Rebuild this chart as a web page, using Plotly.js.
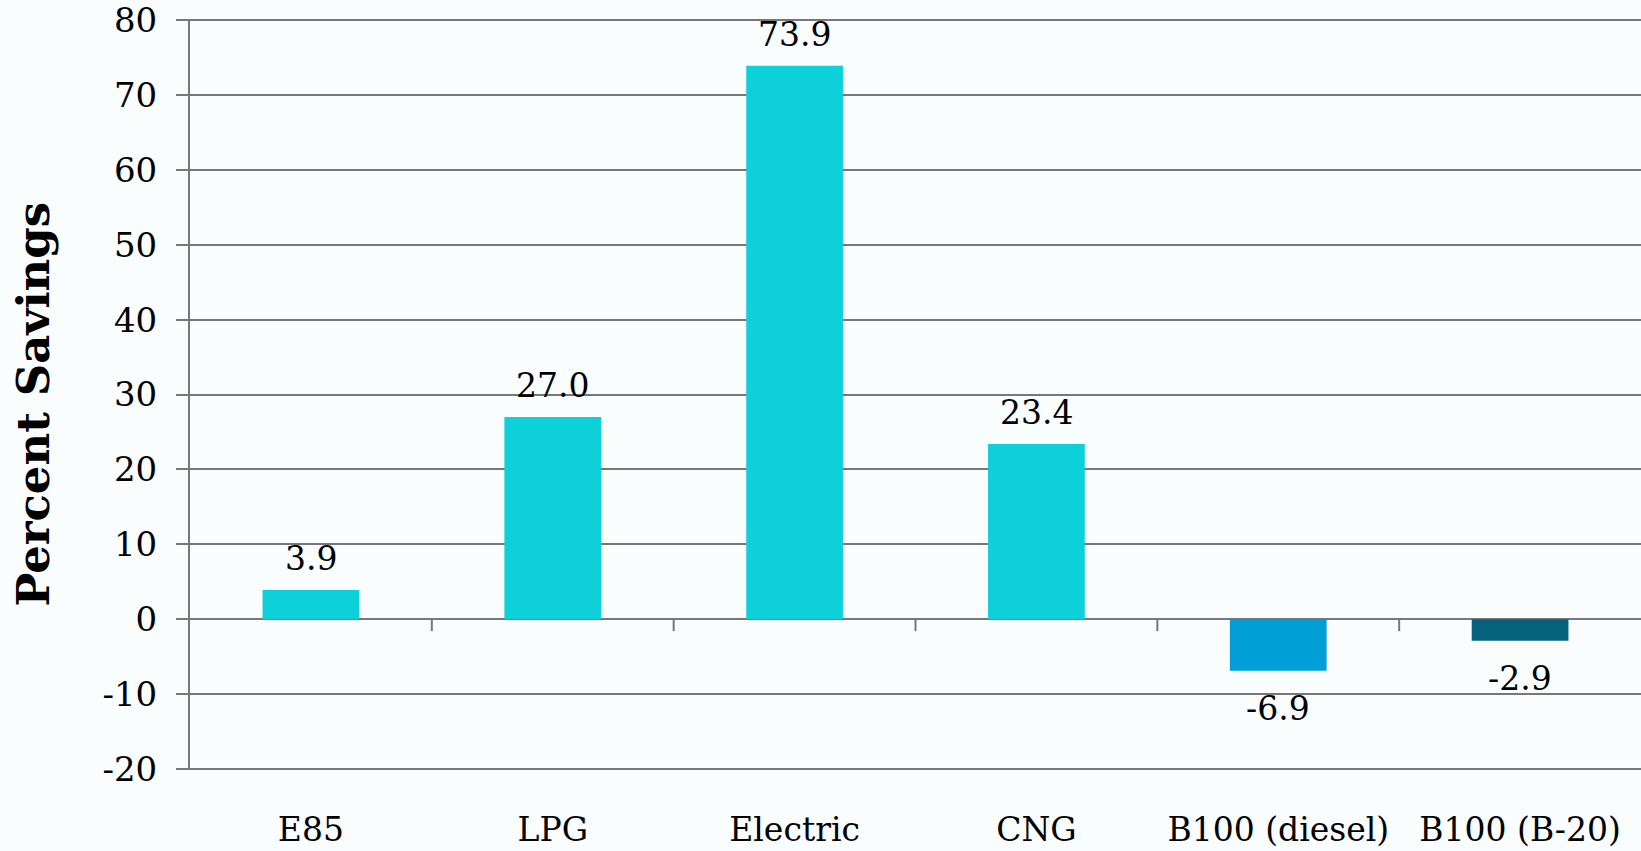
<!DOCTYPE html>
<html>
<head>
<meta charset="utf-8">
<script src="https://cdn.plot.ly/plotly-3.0.1.min.js"></script>
<style>
  html, body { margin: 0; padding: 0; background: #f9fdfe; }
  #chart { width: 1641px; height: 851px; }
</style>
</head>
<body>
<div id="chart"></div>
<script>
// Fuel types and their percent savings
const categories = ["E85", "LPG", "Electric", "CNG", "B100 (diesel)", "B100 (B-20)"];
const savings = [3.9, 27.0, 73.9, 23.4, -6.9, -2.9];
const barColors = ["#0dd0d8", "#0dd0d8", "#0dd0d8", "#0dd0d8", "#009fd8", "#06627c"];
const yTicks = [-20, -10, 0, 10, 20, 30, 40, 50, 60, 70, 80];
const yTitle = "Percent Savings";

const FONT = "DejaVu Serif, Liberation Serif, serif";
const GRID = "#777777";

const trace = {
  type: "bar",
  x: categories,
  y: savings,
  marker: { color: barColors, line: { width: 0 } },
  hoverinfo: "x+y",
  cliponaxis: false
};

// Value labels above positive bars, below negative bars
const labels = categories.map((c, i) => ({
  x: c,
  y: savings[i],
  xref: "x",
  yref: "y",
  text: savings[i].toFixed(1),
  showarrow: false,
  yanchor: savings[i] >= 0 ? "bottom" : "top",
  yshift: savings[i] >= 0 ? 10 : -16,
  font: { family: FONT, size: 33, color: "#000" }
}));

// Vertical axis title, set slightly below the middle of the plot
labels.push({
  xref: "paper",
  yref: "paper",
  x: 0,
  y: 0.5,
  xanchor: "center",
  yanchor: "middle",
  xshift: -157,
  yshift: -10,
  textangle: -90,
  text: "<b>" + yTitle + "</b>",
  showarrow: false,
  font: { family: FONT, size: 45, color: "#000" }
});

// Short tick marks hanging below the zero line at category boundaries
const boundaryTicks = [];
for (let i = 0; i < categories.length - 1; i++) {
  boundaryTicks.push({
    type: "line",
    xref: "x",
    yref: "y",
    x0: i + 0.5,
    x1: i + 0.5,
    ysizemode: "pixel",
    yanchor: 0,
    y0: 0,
    y1: -12,
    line: { color: GRID, width: 2 }
  });
}

const layout = {
  width: 1641,
  height: 851,
  margin: { l: 190, r: 0, t: 19, b: 81 },
  paper_bgcolor: "#f9fdfe",
  plot_bgcolor: "#f9fdfe",
  showlegend: false,
  bargap: 0.6,
  font: { family: FONT, size: 32, color: "#000" },
  xaxis: {
    type: "category",
    showgrid: false,
    showline: false,
    ticks: "",
    ticklabelstandoff: 37,
    tickfont: { family: FONT, size: 33, color: "#000" },
    fixedrange: true
  },
  yaxis: {
    // a hair of padding keeps the end gridlines at 80 and -20 drawn
    range: [-20.15, 80.15],
    tickvals: yTicks,
    ticktext: yTicks.map(String),
    showgrid: true,
    gridcolor: GRID,
    gridwidth: 2,
    zeroline: true,
    zerolinecolor: GRID,
    zerolinewidth: 2,
    showline: true,
    linecolor: GRID,
    linewidth: 2,
    ticks: "outside",
    ticklen: 12,
    tickcolor: GRID,
    tickwidth: 2,
    ticklabelstandoff: 12,
    ticklabeloverflow: "allow",
    tickfont: { family: FONT, size: 34, color: "#000" },
    fixedrange: true
  },
  annotations: labels,
  shapes: boundaryTicks
};

Plotly.newPlot("chart", [trace], layout, { displayModeBar: false, staticPlot: true });
</script>
</body>
</html>
